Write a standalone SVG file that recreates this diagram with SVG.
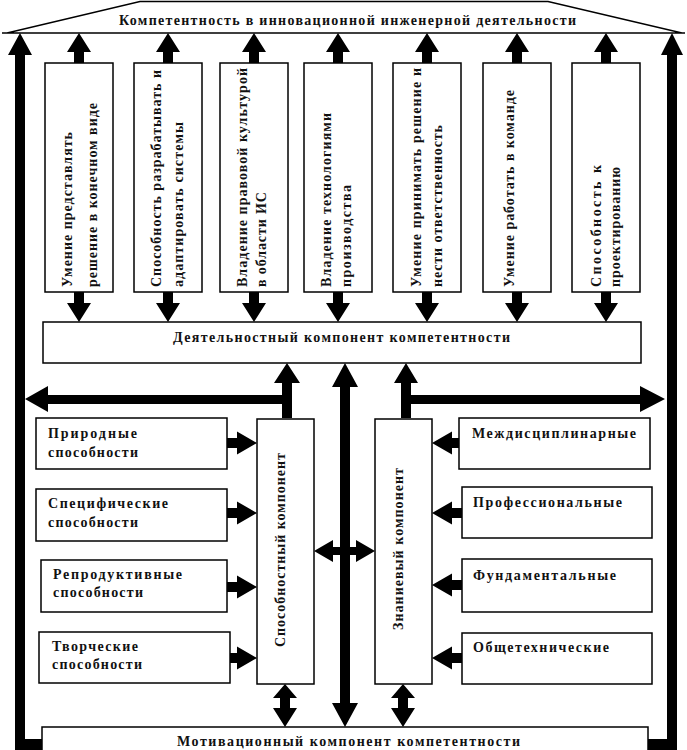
<svg xmlns="http://www.w3.org/2000/svg" width="687" height="750" viewBox="0 0 687 750">
<style>
.box{fill:#fff;stroke:#000;stroke-width:1.5}
.t{font-family:"Liberation Serif","Times New Roman",serif;font-weight:bold;font-size:14px;fill:#111}
.arr{fill:#000;stroke:none}
.roof{fill:none;stroke:#000;stroke-width:1.3}
</style>
<defs>
<path id="upA" d="M-5 31 V19 H-12 L0 0 L12 19 H5 V31 Z"/>
<path id="downA" d="M-5 -31 V-19 H-12 L0 0 L12 -19 H5 V-31 Z"/>
<path id="rightA" d="M-31 -5 H-20 V-11.5 L0 0 L-20 11.5 V5 H-31 Z"/>
<path id="leftA" d="M31 -5 H20 V-11.5 L0 0 L20 11.5 V5 H31 Z"/>
</defs>
<rect width="687" height="750" fill="#fff"/>

<g id="roof">
<path class="roof" d="M2 33 H685 M7 33 L140 1.5 H548 L682 33"/>
<text class="t" x="119" y="25" textLength="457">Компетентность в инновационной инженерной деятельности</text>
</g>

<g id="connectors" class="arr">
<use href="#upA" x="79" y="33"/>
<use href="#upA" x="168" y="33"/>
<use href="#upA" x="254" y="33"/>
<use href="#upA" x="338" y="33"/>
<use href="#upA" x="427" y="33"/>
<use href="#upA" x="517" y="33"/>
<use href="#upA" x="606" y="33"/>
<use href="#downA" x="79" y="322"/>
<use href="#downA" x="168" y="322"/>
<use href="#downA" x="254" y="322"/>
<use href="#downA" x="338" y="322"/>
<use href="#downA" x="427" y="322"/>
<use href="#downA" x="517" y="322"/>
<use href="#downA" x="606" y="322"/>
<path d="M15 55 H8 L20 33 L32 55 H25 V739 H43 V750 H15 Z"/>
<path d="M677 55 H683 L672 33 L661 55 H667 V739 H647 V750 H677 Z"/>
<path d="M292 418 V383 H300 L287 363 L274 383 H282 V395 H48 V386 L25 399 L48 412 V404 H282 V418 Z"/>
<path d="M401 418 V383 H394 L406 363 L418 383 H411 V395 H640 V386 L665 399 L640 412 V404 H411 V418 Z"/>
<path d="M340 387 H332 L345 363 L358 387 H350 V703 H358 L345 727 L332 703 H340 Z"/>
<path d="M314 551 L333 540 V547 H356 V540 L375 551 L356 562 V555 H333 V562 Z"/>
<path d="M285 684 L297 698 H290 V708 H297 L285 727 L273 708 H280 V698 H273 Z"/>
<path d="M403 684 L415 698 H408 V708 H415 L403 727 L391 708 H398 V698 H391 Z"/>
<use href="#rightA" x="257" y="443"/>
<use href="#rightA" x="257" y="513"/>
<use href="#rightA" x="257" y="587"/>
<use href="#rightA" x="257" y="658"/>
<use href="#leftA" x="432" y="443"/>
<use href="#leftA" x="432" y="513"/>
<use href="#leftA" x="432" y="585"/>
<use href="#leftA" x="432" y="658"/>
</g>

<g id="v1">
<rect class="box" x="45" y="63" width="68" height="229"/>
<text class="t" transform="translate(72,287) rotate(-90)" textLength="155">Умение представлять</text>
<text class="t" transform="translate(97,287) rotate(-90)" textLength="184">решение в конечном виде</text>
</g>
<g id="v2">
<rect class="box" x="134" y="63" width="68" height="229"/>
<text class="t" transform="translate(161,287) rotate(-90)" textLength="217">Способность разрабатывать и</text>
<text class="t" transform="translate(183,287) rotate(-90)" textLength="165">адаптировать системы</text>
</g>
<g id="v3">
<rect class="box" x="220" y="63" width="68" height="229"/>
<text class="t" transform="translate(247,287) rotate(-90)" textLength="219">Владение правовой культурой</text>
<text class="t" transform="translate(266,287) rotate(-90)" textLength="95">в области ИС</text>
</g>
<g id="v4">
<rect class="box" x="304" y="63" width="68" height="229"/>
<text class="t" transform="translate(331,287) rotate(-90)" textLength="174">Владение технологиями</text>
<text class="t" transform="translate(351,287) rotate(-90)" textLength="102">производства</text>
</g>
<g id="v5">
<rect class="box" x="393" y="63" width="68" height="229"/>
<text class="t" transform="translate(421,287) rotate(-90)" textLength="219">Умение принимать решение и</text>
<text class="t" transform="translate(442,287) rotate(-90)" textLength="162">нести ответственность</text>
</g>
<g id="v6">
<rect class="box" x="483" y="63" width="68" height="229"/>
<text class="t" transform="translate(514,287) rotate(-90)" textLength="197">Умение работать в команде</text>
</g>
<g id="v7">
<rect class="box" x="572" y="63" width="68" height="229"/>
<text class="t" transform="translate(601,287) rotate(-90)" textLength="122">Способность к</text>
<text class="t" transform="translate(620,287) rotate(-90)" textLength="120">проектированию</text>
</g>

<g id="activity">
<rect class="box" x="43" y="322" width="598" height="41"/>
<text class="t" x="173" y="342" textLength="337">Деятельностный компонент компетентности</text>
</g>

<g id="ability">
<rect class="box" x="257" y="419" width="57" height="265"/>
<text class="t" transform="translate(285,647) rotate(-90)" textLength="194">Способностный компонент</text>
</g>
<g id="knowledge">
<rect class="box" x="375" y="419" width="57" height="265"/>
<text class="t" transform="translate(403,630) rotate(-90)" textLength="162">Знаниевый компонент</text>
</g>

<g id="natural">
<rect class="box" x="36" y="418" width="191" height="51"/>
<text class="t" x="48" y="438" textLength="89">Природные</text>
<text class="t" x="48" y="457" textLength="90">способности</text>
</g>
<g id="specific">
<rect class="box" x="36" y="489" width="191" height="52"/>
<text class="t" x="48" y="508" textLength="120">Специфические</text>
<text class="t" x="48" y="527" textLength="90">способности</text>
</g>
<g id="reproductive">
<rect class="box" x="41" y="560" width="186" height="52"/>
<text class="t" x="53" y="579" textLength="129">Репродуктивные</text>
<text class="t" x="53" y="597" textLength="90">способности</text>
</g>
<g id="creative">
<rect class="box" x="39" y="632" width="191" height="51"/>
<text class="t" x="52" y="651" textLength="86">Творческие</text>
<text class="t" x="52" y="669" textLength="90">способности</text>
</g>

<g id="interdisciplinary">
<rect class="box" x="459" y="418" width="191" height="51"/>
<text class="t" x="472" y="438" textLength="164">Междисциплинарные</text>
</g>
<g id="professional">
<rect class="box" x="462" y="487" width="190" height="51"/>
<text class="t" x="473" y="507" textLength="149">Профессиональные</text>
</g>
<g id="fundamental">
<rect class="box" x="462" y="559" width="190" height="53"/>
<text class="t" x="473" y="580" textLength="143">Фундаментальные</text>
</g>
<g id="general">
<rect class="box" x="462" y="633" width="190" height="51"/>
<text class="t" x="473" y="652" textLength="136">Общетехнические</text>
</g>

<g id="motivation">
<rect class="box" x="42" y="727" width="606" height="40"/>
<text class="t" x="177" y="746" textLength="343">Мотивационный компонент компетентности</text>
</g>
</svg>
